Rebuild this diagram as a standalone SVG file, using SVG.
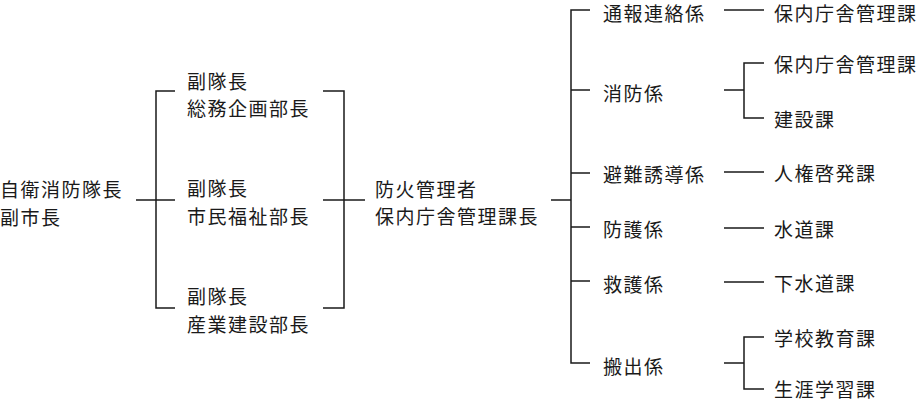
<svg xmlns="http://www.w3.org/2000/svg" width="918" height="401" viewBox="0 0 918 401">
<style>
text{font-family:"Noto Sans CJK JP","Noto Sans CJK SC",sans-serif;font-size:19px;letter-spacing:1.5px;fill:#1a1a1a;dominant-baseline:central}
.c path{fill:none;stroke:#1a1a1a;stroke-width:1.5}
</style>
<rect width="918" height="401" fill="#fff"/>
<g class="c" id="connectors">
<path d="M136 200H175M175 91H156V308H175"/>
<path d="M323 91H344V308H323M323 200H365"/>
<path d="M551 200H571M590 10H571V363H590M571 90H590M571 173H590M571 227H590M571 281H590"/>
<path d="M724 10H764"/>
<path d="M724 90H744M764 63H744V118H764"/>
<path d="M724 172H764M724 228H764M724 282H764"/>
<path d="M724 363H744M764 337H744V389H764"/>
</g>
<g id="n-chief"><text x="0" y="188">自衛消防隊長</text><text x="0" y="216">副市長</text></g>
<g id="n-vice1"><text x="187" y="80">副隊長</text><text x="187" y="107">総務企画部長</text></g>
<g id="n-vice2"><text x="187" y="187">副隊長</text><text x="187" y="215">市民福祉部長</text></g>
<g id="n-vice3"><text x="187" y="295">副隊長</text><text x="187" y="323">産業建設部長</text></g>
<g id="n-manager"><text x="375" y="188">防火管理者</text><text x="375" y="215">保内庁舎管理課長</text></g>
<g id="n-g1"><text x="603" y="12">通報連絡係</text></g>
<g id="n-g2"><text x="603" y="92">消防係</text></g>
<g id="n-g3"><text x="603" y="173">避難誘導係</text></g>
<g id="n-g4"><text x="603" y="228">防護係</text></g>
<g id="n-g5"><text x="603" y="283">救護係</text></g>
<g id="n-g6"><text x="603" y="365">搬出係</text></g>
<g id="n-d1"><text x="774" y="12">保内庁舎管理課</text></g>
<g id="n-d2"><text x="774" y="63">保内庁舎管理課</text></g>
<g id="n-d3"><text x="774" y="118">建設課</text></g>
<g id="n-d4"><text x="774" y="172">人権啓発課</text></g>
<g id="n-d5"><text x="774" y="228">水道課</text></g>
<g id="n-d6"><text x="774" y="282">下水道課</text></g>
<g id="n-d7"><text x="774" y="337">学校教育課</text></g>
<g id="n-d8"><text x="774" y="388">生涯学習課</text></g>
</svg>
